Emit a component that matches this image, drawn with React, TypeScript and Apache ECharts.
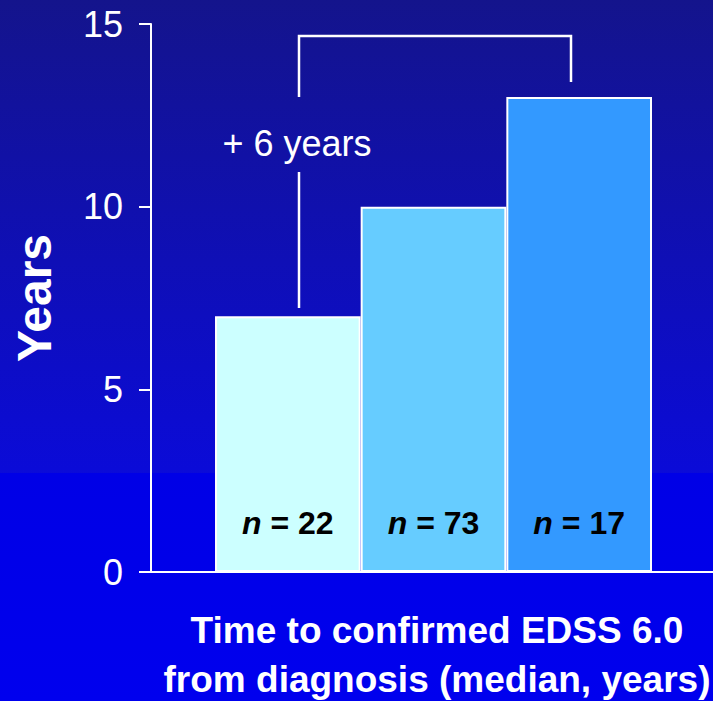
import React, { useEffect, useRef } from "react";
import * as echarts from "echarts";

// Median time to confirmed EDSS 6.0 per group
const groups = ["Group A", "Group B", "Group C"];
const medianYears = [7, 10, 13];
const groupSizes = [22, 73, 17];
const barColors = ["#ccffff", "#66ccff", "#3399ff"];
const yTicks = { min: 0, max: 15, interval: 5 };
const xTitleLines = ["Time to confirmed EDSS 6.0", "from diagnosis (median, years)"];
const bracketLabel = "+ 6 years";

const FONT = "'Liberation Sans', Arial, Helvetica, sans-serif";

export default function App() {
  const ref = useRef<HTMLDivElement>(null);

  useEffect(() => {
    if (!ref.current) return;
    const chart = echarts.init(ref.current, undefined, { renderer: "svg" });

    const line = { stroke: "#ffffff", lineWidth: 2.5 };

    chart.setOption({
      animation: false,
      backgroundColor: new echarts.graphic.LinearGradient(0, 0, 0, 1, [
        { offset: 0, color: "#14148c" },
        { offset: 0.674, color: "#0b0bd8" },
        { offset: 0.675, color: "#0000e6" },
        { offset: 1, color: "#0000ee" },
      ]),
      grid: [
        { left: 151, right: 0, top: 24, bottom: 129, containLabel: false, outerBoundsMode: "none" },
        { left: 215, right: 61, top: 24, bottom: 129, containLabel: false, outerBoundsMode: "none" },
      ],
      xAxis: [
        {
          gridIndex: 0,
          type: "value",
          min: 0,
          max: 1,
          axisLine: { show: true, lineStyle: { color: "#ffffff", width: 2 } },
          axisTick: { show: false },
          axisLabel: { show: false },
          splitLine: { show: false },
        },
        {
          gridIndex: 1,
          type: "category",
          data: groups,
          show: false,
        },
      ],
      yAxis: [
        {
          gridIndex: 0,
          type: "value",
          min: yTicks.min,
          max: yTicks.max,
          interval: yTicks.interval,
          name: "Years",
          nameLocation: "middle",
          nameGap: 93,
          nameRotate: 90,
          nameTextStyle: {
            color: "#ffffff",
            fontFamily: FONT,
            fontWeight: "bold",
            fontSize: 48,
          },
          axisLine: { show: true, lineStyle: { color: "#ffffff", width: 2 } },
          axisTick: { show: true, length: 12, lineStyle: { color: "#ffffff", width: 2 } },
          axisLabel: {
            color: "#ffffff",
            fontFamily: FONT,
            fontSize: 36,
            margin: 28,
          },
          splitLine: { show: false },
        },
        {
          gridIndex: 1,
          type: "value",
          min: yTicks.min,
          max: yTicks.max,
          interval: yTicks.interval,
          show: false,
          splitLine: { show: false },
        },
      ],
      series: [
        {
          type: "bar",
          xAxisIndex: 1,
          yAxisIndex: 1,
          barWidth: "100%",
          data: medianYears.map((v, i) => ({
            value: v,
            itemStyle: { color: barColors[i] },
          })),
          itemStyle: { borderColor: "#ffffff", borderWidth: 2 },
          label: {
            show: true,
            position: "insideBottom",
            distance: 33,
            formatter: (p: any) => `{i|n}{b| = ${groupSizes[p.dataIndex]}}`,
            rich: {
              i: {
                fontFamily: FONT,
                fontWeight: "bold",
                fontStyle: "italic",
                fontSize: 32,
                color: "#000000",
              },
              b: {
                fontFamily: FONT,
                fontWeight: "bold",
                fontSize: 32,
                color: "#000000",
              },
            },
          },
        },
      ],
      graphic: [
        // comparison bracket between the first and last groups
        {
          type: "polyline",
          shape: { points: [[299, 97], [299, 36], [571, 36], [571, 82]] },
          style: { ...line, fill: null },
        },
        {
          type: "line",
          shape: { x1: 299, y1: 172, x2: 299, y2: 308 },
          style: line,
        },
        {
          type: "text",
          x: 297,
          y: 143,
          style: {
            text: bracketLabel,
            fill: "#ffffff",
            font: `36px ${FONT}`,
            textAlign: "center",
            textVerticalAlign: "middle",
          },
        },
        // x-axis title
        ...xTitleLines.map((t, i) => ({
          type: "text",
          x: 437,
          y: 630 + i * 49,
          style: {
            text: t,
            fill: "#ffffff",
            font: `bold 37px ${FONT}`,
            textAlign: "center",
            textVerticalAlign: "middle",
          },
        })),
      ],
    });

    return () => chart.dispose();
  }, []);

  return <div ref={ref} style={{ width: 713, height: 701, position: "absolute", left: 0, top: 0 }} />;
}
